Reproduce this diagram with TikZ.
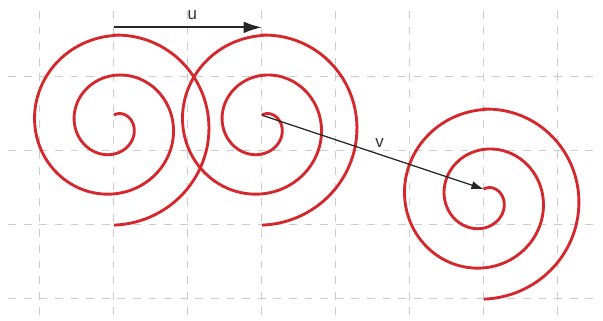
\documentclass[tikz,border=0pt]{standalone}
\usepackage{fontspec}
\setmainfont{Liberation Sans}
\usetikzlibrary{arrows.meta}

\begin{document}
\begin{tikzpicture}[>=Latex,
  gridline/.style={draw=black!20,line width=0.4pt,dash pattern=on 3pt off 3pt},
  spiral/.style={draw={rgb,255:red,212;green,40;blue,44},line width=1.1pt},
  vec/.style={->,draw=black!85},
  lbl/.style={font=\fontsize{6.5}{7}\selectfont,text=black!80,inner sep=1pt}]
\useasboundingbox (-1.54,-1.30) rectangle (6.61,3.03);
% dashed grid
\foreach \x in {-1,...,6}{\draw[gridline] (\x,-1.23)--(\x,2.96);}
\foreach \y in {-1,...,2}{\draw[gridline] (-1.43,\y)--(6.54,\y);}
% the three spirals
\foreach \name/\dx/\dy in {sa/0/0,sb/2/0,sc/5/-1}{
  \begin{scope}[shift={(\dx,\dy)}]
  \draw[spiral] plot[domain=0:720,samples=240] ({(0.128+0.001502*\x)*sin(\x)},{1.345+(0.128+0.001502*\x)*cos(\x)})
    -- plot[domain=720:900,samples=60] ({(1.2095+0.000826*(\x-720))*sin(\x)},{1.345+(1.2095+0.000826*(\x-720))*cos(\x)});
  \coordinate (\name) at (0,1.473);
  \end{scope}}
% vectors
\coordinate (u0) at (0,2.66);
\coordinate (u1) at (2,2.66);
\draw[vec,line width=0.8pt,-{Latex[length=7pt,width=4.5pt]}] (u0)--(u1) node[lbl,pos=0.53,above=1.5pt] (ulbl) {u};
\draw[vec,line width=0.5pt,-{Latex[length=4.8pt,width=3.2pt]}] (sb)--(sc) node[lbl,pos=0.53,above=1.5pt] (vlbl) {v};
\end{tikzpicture}
\end{document}
